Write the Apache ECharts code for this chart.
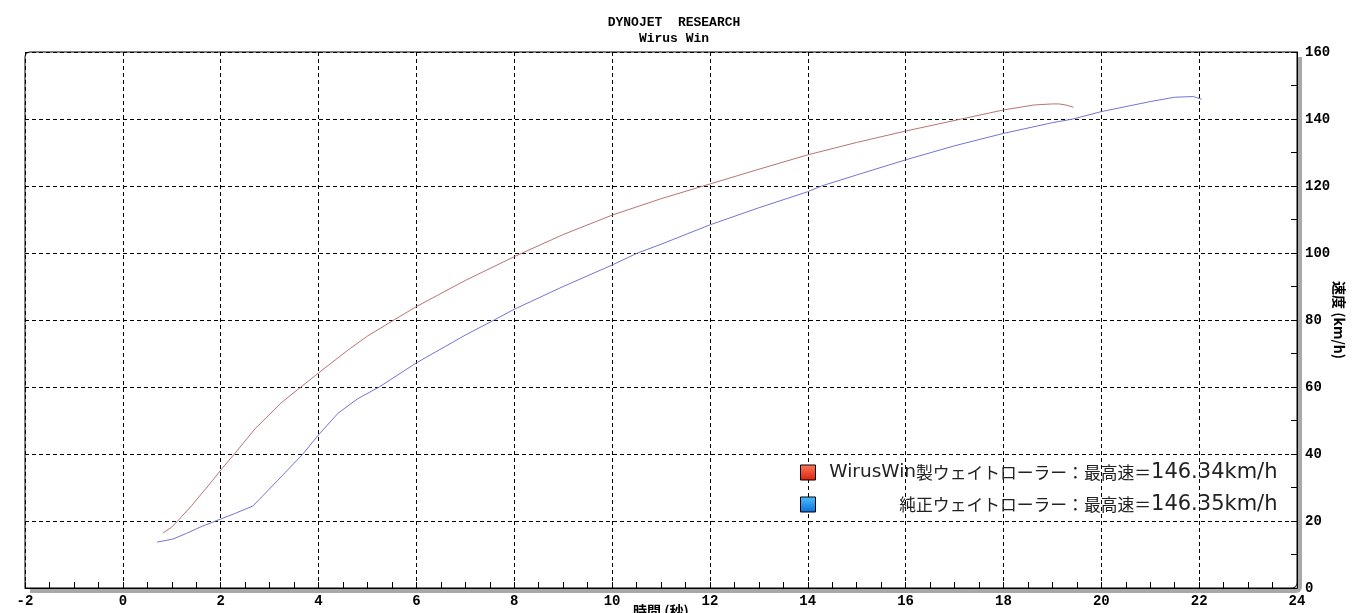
<!DOCTYPE html>
<html>
<head>
<meta charset="utf-8">
<script src="https://cdn.jsdelivr.net/npm/echarts@6/dist/echarts.min.js"></script>
<style>
html,body{margin:0;padding:0;background:#fff;}
#chart{width:1360px;height:613px;}
</style>
</head>
<body>
<div id="chart"></div>
<script>
// ---- data ----
const titleText = 'DYNOJET  RESEARCH';
const subTitleText = 'Wirus Win';
const xAxisName = '時間 (秒)';
const yAxisName = '速度 (km/h)';
const redName = 'WirusWin製ウェイトローラー：最高速＝146.34km/h';
const blueName = '純正ウェイトローラー：最高速＝146.35km/h';

const redTime  = [0.82, 1.0, 1.12, 1.4, 1.84, 2.0, 2.28, 2.7, 3.23, 3.64, 4.0, 4.6, 5.0, 5.54, 6.0, 7.0, 8.0, 9.0, 10.0, 11.0, 12.0, 13.0, 14.0, 15.0, 16.0, 17.14, 18.0, 18.63, 19.0, 19.14, 19.3, 19.43];
const redSpeed = [16.4, 18.2, 20.0, 24.5, 32.2, 35.2, 40.0, 47.5, 55.2, 60.0, 64.2, 71.0, 75.2, 80.0, 84.0, 91.8, 98.9, 105.5, 111.3, 116.2, 120.6, 125.0, 129.3, 133.0, 136.4, 140.0, 142.7, 144.2, 144.5, 144.5, 144.1, 143.5];

const blueTime  = [0.70, 1.02, 1.3, 1.6, 2.0, 2.3, 2.66, 2.78, 3.17, 3.68, 4.0, 4.4, 4.8, 5.24, 6.0, 7.0, 7.59, 8.0, 9.0, 10.0, 10.52, 11.0, 12.0, 13.0, 14.0, 14.28, 15.0, 16.0, 17.0, 18.0, 19.0, 19.42, 20.0, 21.0, 21.5, 21.88, 22.05];
const blueSpeed = [13.7, 14.6, 16.3, 18.3, 20.6, 22.3, 24.5, 26.3, 32.2, 40.0, 45.7, 52.2, 56.5, 60.0, 67.2, 75.5, 80.0, 83.2, 90.0, 96.4, 100.0, 102.6, 108.4, 113.5, 118.3, 120.0, 123.3, 127.8, 132.0, 135.7, 138.9, 140.0, 142.2, 145.2, 146.5, 146.7, 145.9];

const xMin = -2, xMax = 24, xStep = 2;
const yMin = 0, yMax = 160, yStep = 20;

// ---- build ----
const zip = (a, b) => a.map((v, i) => [v, b[i]]);
const labelFont = {fontFamily: '"Liberation Mono","DejaVu Sans Mono",monospace', fontWeight: 'bold', fontSize: 14, color: '#000'};

const G = {left: 25, right: 63, top: 52, bottom: 25, W: 1360, H: 613};
const gw = G.W - G.left - G.right, gh = G.H - G.top - G.bottom;

function legendFmt(name) {
  const m = name.match(/^([A-Za-z]*)(.*＝)(.*)$/);
  if (!m) return name;
  let s = '';
  if (m[1]) s += '{a|' + m[1] + '}';
  s += '{b|' + m[2] + '}';
  s += '{c|' + m[3] + '}';
  return s;
}

const chart = echarts.init(document.getElementById('chart'), null, {renderer: 'canvas'});
chart.setOption({
  animation: false,
  backgroundColor: '#fff',
  title: {
    text: titleText,
    subtext: subTitleText,
    left: 669,
    textAlign: 'center',
    top: 11,
    itemGap: 3,
    textStyle: {fontFamily: '"Liberation Mono",monospace', fontWeight: 'bold', fontSize: 13, color: '#000'},
    subtextStyle: {fontFamily: '"Liberation Mono",monospace', fontWeight: 'bold', fontSize: 13, color: '#000'}
  },
  graphic: [
    {type: 'rect', z: -10, silent: true,
     shape: {x: G.left + 5, y: G.top + 5, width: gw, height: gh, r: [0, 0, 6, 0]},
     style: {fill: '#a8a8a8'}},
    {type: 'rect', z: -9, silent: true,
     shape: {x: G.left, y: G.top, width: gw, height: gh, r: [5, 0, 5, 0]},
     style: {fill: '#fff', stroke: '#000', lineWidth: 1}}
  ],
  grid: {
    left: G.left, right: G.right, top: G.top, bottom: G.bottom,
    show: false,
    containLabel: false,
    outerBoundsMode: 'none'
  },
  legend: {
    orient: 'vertical',
    left: 795,
    top: 457,
    itemWidth: 15,
    itemHeight: 15,
    itemGap: 11,
    icon: 'rect',
    formatter: legendFmt,
    data: [
      {name: redName, itemStyle: {color: new echarts.graphic.LinearGradient(0,0,0,1,[{offset:0,color:'#ff7a5a'},{offset:1,color:'#d8200c'}]), borderColor: '#000', borderWidth: 1}},
      {name: blueName, itemStyle: {color: new echarts.graphic.LinearGradient(0,0,0,1,[{offset:0,color:'#4cc0ff'},{offset:1,color:'#0a6ed8'}]), borderColor: '#000', borderWidth: 1}}
    ],
    textStyle: {
      width: 457,
      color: '#222',
      rich: {
        a: {fontFamily: '"DejaVu Sans",sans-serif', fontSize: 18.5, color: '#222', align: 'right', lineHeight: 18},
        b: {fontFamily: '"Noto Sans CJK JP",sans-serif', fontSize: 16.8, color: '#222', align: 'right', lineHeight: 18},
        c: {fontFamily: '"DejaVu Sans",sans-serif', fontSize: 21, color: '#222', align: 'right', lineHeight: 18}
      }
    },
    selectedMode: false
  },
  xAxis: {
    type: 'value',
    min: xMin, max: xMax, interval: xStep,
    name: xAxisName,
    nameLocation: 'middle',
    nameGap: 16,
    nameMoveOverlap: false,
    nameTextStyle: {fontFamily: '"Noto Sans CJK JP",sans-serif', fontWeight: 'bold', fontSize: 14, color: '#000', verticalAlign: 'top'},
    axisLine: {show: true, onZero: false, lineStyle: {color: '#000', width: 1}},
    axisTick: {show: true, inside: true, length: 6, lineStyle: {color: '#000'}},
    minorTick: {show: true, splitNumber: 4, length: 6, lineStyle: {color: '#000'}},
    axisLabel: Object.assign({margin: 6, showMinLabel: true, showMaxLabel: true}, labelFont),
    splitLine: {show: true, lineStyle: {color: '#000', type: [4, 3], width: 1}}
  },
  yAxis: {
    type: 'value',
    position: 'right',
    min: yMin, max: yMax, interval: yStep,
    name: yAxisName,
    nameLocation: 'middle',
    nameRotate: -90,
    nameGap: 35,
    nameMoveOverlap: false,
    nameTextStyle: {fontFamily: '"Noto Sans CJK JP",sans-serif', fontWeight: 'bold', fontSize: 14, color: '#000'},
    axisLine: {show: true, onZero: false, lineStyle: {color: '#000', width: 1}},
    axisTick: {show: true, inside: true, length: 6, lineStyle: {color: '#000'}},
    minorTick: {show: true, splitNumber: 2, length: 6, lineStyle: {color: '#000'}},
    axisLabel: Object.assign({margin: 8}, labelFont),
    splitLine: {show: true, lineStyle: {color: '#000', type: [4, 3], width: 1}}
  },
  series: [
    {
      name: redName,
      type: 'line',
      data: zip(redTime, redSpeed),
      showSymbol: false,
      symbol: 'none',
      lineStyle: {color: '#b87474', width: 1},
      itemStyle: {color: '#b87474'}
    },
    {
      name: blueName,
      type: 'line',
      data: zip(blueTime, blueSpeed),
      showSymbol: false,
      symbol: 'none',
      lineStyle: {color: '#7474d4', width: 1},
      itemStyle: {color: '#7474d4'}
    }
  ]
});
</script>
</body>
</html>
